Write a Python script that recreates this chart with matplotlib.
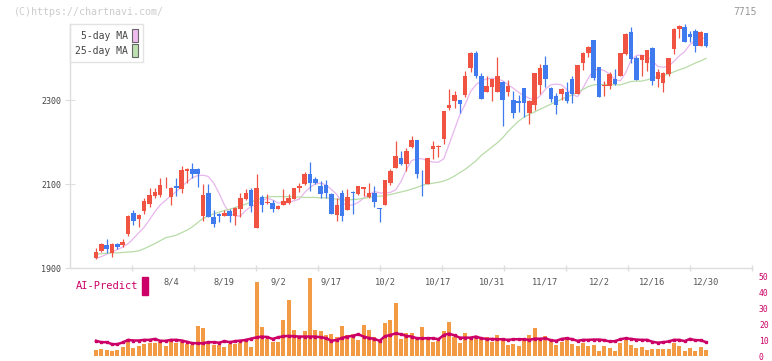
import numpy as np
import matplotlib
matplotlib.use('Agg')
import matplotlib.pyplot as plt
from matplotlib.patches import Patch, Rectangle

# daily candles, 7/11 .. 12/30 (first one is a doji with no volume bar)
opens = [1930, 1925, 1941, 1955, 1936, 1957, 1955, 1981, 2030, 2017, 2036, 2052, 2071, 2075, 2099, 2070,
         2095, 2087, 2132, 2136, 2136, 2024, 2079, 2021, 2029, 2025, 2036, 2024, 2040, 2065, 2086, 1996,
         2068, 2054, 2054, 2041, 2050, 2054, 2065, 2090, 2099, 2125, 2113, 2095, 2098, 2076, 2026, 2079,
         2038, 2079, 2076, 2089, 2070, 2079, 2044, 2050, 2103, 2139, 2162, 2148, 2187, 2205, 2101, 2100,
         2183, 2189, 2207, 2282, 2298, 2300, 2312, 2377, 2413, 2357, 2320, 2332, 2320, 2344, 2320, 2300,
         2298, 2328, 2270, 2288, 2336, 2383, 2328, 2310, 2314, 2319, 2350, 2314, 2387, 2413, 2443, 2378,
         2334, 2334, 2349, 2356, 2410, 2461, 2399, 2395, 2389, 2425, 2350, 2341, 2362, 2421, 2468, 2475,
         2457, 2464, 2429, 2459]
highs = [1930, 1948, 1959, 1969, 1959, 1960, 1968, 2025, 2038, 2028, 2067, 2090, 2090, 2114, 2116, 2092,
         2114, 2143, 2137, 2151, 2137, 2100, 2100, 2038, 2030, 2038, 2040, 2046, 2078, 2089, 2090, 2124,
         2073, 2075, 2062, 2050, 2087, 2076, 2090, 2102, 2129, 2152, 2117, 2106, 2110, 2078, 2066, 2086,
         2088, 2083, 2095, 2094, 2103, 2095, 2044, 2110, 2135, 2202, 2179, 2185, 2214, 2205, 2133, 2162,
         2202, 2193, 2274, 2325, 2321, 2300, 2369, 2415, 2417, 2365, 2357, 2349, 2403, 2346, 2348, 2321,
         2312, 2328, 2300, 2365, 2386, 2405, 2332, 2317, 2328, 2344, 2356, 2383, 2415, 2429, 2443, 2379,
         2345, 2367, 2373, 2411, 2459, 2473, 2405, 2407, 2419, 2427, 2373, 2367, 2401, 2471, 2479, 2480,
         2464, 2468, 2464, 2459]
lows = [1930, 1922, 1939, 1936, 1925, 1945, 1951, 1975, 2003, 1998, 2029, 2046, 2067, 2070, 2090, 2050,
        2071, 2079, 2102, 2114, 2094, 2013, 2021, 1997, 2010, 2024, 2010, 2002, 2022, 2062, 2034, 1996,
        2034, 2052, 2034, 2040, 2049, 2052, 2065, 2082, 2098, 2083, 2100, 2066, 2066, 2029, 2013, 2013,
        2038, 2029, 2074, 2072, 2066, 2046, 2010, 2050, 2097, 2139, 2145, 2132, 2185, 2115, 2071, 2100,
        2160, 2165, 2195, 2276, 2280, 2268, 2308, 2367, 2352, 2302, 2320, 2298, 2320, 2238, 2310, 2256,
        2272, 2260, 2243, 2276, 2314, 2332, 2296, 2267, 2300, 2294, 2294, 2314, 2371, 2403, 2348, 2306,
        2310, 2326, 2336, 2356, 2407, 2387, 2348, 2356, 2370, 2336, 2332, 2320, 2358, 2409, 2447, 2437,
        2439, 2415, 2429, 2427]
closes = [1930, 1938, 1957, 1945, 1957, 1951, 1963, 2024, 2013, 2026, 2060, 2073, 2081, 2098, 2101, 2090,
          2090, 2133, 2136, 2125, 2124, 2074, 2022, 2005, 2024, 2032, 2024, 2044, 2066, 2079, 2048, 2090,
          2051, 2055, 2041, 2048, 2060, 2067, 2090, 2095, 2124, 2103, 2103, 2076, 2079, 2029, 2050, 2024,
          2070, 2078, 2095, 2092, 2079, 2058, 2041, 2110, 2131, 2167, 2148, 2179, 2205, 2124, 2099, 2162,
          2190, 2190, 2274, 2288, 2313, 2291, 2356, 2413, 2356, 2302, 2333, 2349, 2356, 2300, 2333, 2268,
          2294, 2292, 2298, 2365, 2376, 2350, 2302, 2288, 2326, 2298, 2314, 2383, 2413, 2425, 2353, 2308,
          2336, 2363, 2338, 2411, 2457, 2398, 2348, 2407, 2419, 2346, 2366, 2364, 2399, 2468, 2475, 2437,
          2451, 2429, 2461, 2429]

ma5 = [np.nan,
       1923, 1927, 1933, 1938, 1944, 1950, 1958, 1970, 1984, 1997, 2015, 2034, 2050, 2061, 2072, 2082,
       2094, 2105, 2115, 2120, 2121, 2118, 2102, 2078, 2050, 2030, 2024, 2024, 2037, 2047, 2051, 2060,
       2066, 2062, 2055, 2055, 2056, 2060, 2064, 2080, 2092, 2100, 2102, 2098, 2087, 2075, 2054, 2050,
       2050, 2056, 2066, 2075, 2082, 2079, 2078, 2080, 2086, 2106, 2134, 2156, 2160, 2160, 2155, 2152,
       2152, 2160, 2195, 2230, 2265, 2290, 2320, 2336, 2346, 2350, 2352, 2350, 2346, 2336, 2328, 2318,
       2310, 2304, 2300, 2310, 2326, 2336, 2338, 2336, 2325, 2313, 2308, 2328, 2352, 2370, 2374, 2370,
       2362, 2348, 2346, 2365, 2395, 2406, 2407, 2404, 2393, 2380, 2378, 2380, 2392, 2405, 2415, 2432,
       2442, 2447, 2447]
ma25 = [np.nan,
        1933, 1934, 1935, 1936, 1936, 1937, 1938, 1939, 1941, 1946, 1952, 1958, 1965, 1972, 1975, 1978,
        1984, 1990, 1998, 2008, 2018, 2024, 2029, 2033, 2037, 2040, 2044, 2048, 2052, 2057, 2062, 2066,
        2069, 2070, 2070, 2070, 2070, 2069, 2069, 2068, 2068, 2068, 2067, 2067, 2066, 2064, 2062, 2062,
        2063, 2064, 2066, 2068, 2070, 2071, 2072, 2075, 2078, 2081, 2084, 2088, 2092, 2097, 2100, 2102,
        2104, 2107, 2112, 2119, 2127, 2135, 2145, 2155, 2168, 2178, 2188, 2198, 2210, 2225, 2238, 2250,
        2259, 2266, 2272, 2278, 2284, 2290, 2296, 2302, 2307, 2312, 2318, 2325, 2332, 2336, 2337, 2337,
        2337, 2336, 2336, 2340, 2344, 2345, 2345, 2348, 2352, 2355, 2358, 2362, 2367, 2372, 2376, 2382,
        2388, 2393, 2399]

volume = [3.9, 4.6, 3.9, 3.3, 3.9, 5.8, 10.6, 5.2, 6.5, 7.7, 8.1, 8.3, 8.75, 6.5, 9.2, 8.3,
          8.75, 7.7, 7.1, 18.75, 17.5, 7.5, 7.1, 7.1, 5.8, 7.5, 7.9, 8.5, 9.2, 5.6, 47.1, 18.3,
          11.0, 8.9, 8.9, 22.5, 35.2, 16.5, 12.7, 15.8, 49.6, 16.5, 15.8, 13.1, 13.75, 11.9, 18.75, 13.3,
          13.75, 10.2, 19.6, 16.5, 11.9, 10.2, 20.6, 22.7, 33.3, 10.8, 14.4, 14.4, 11.9, 18.1, 11.9, 8.75,
          9.6, 15.8, 21.25, 12.3, 8.1, 14.4, 11.7, 12.9, 11.25, 12.3, 8.75, 13.1, 10.6, 6.9, 7.5, 6.25,
          10.6, 13.1, 17.5, 10.6, 12.5, 9.2, 7.1, 8.75, 12.3, 7.5, 6.25, 8.1, 6.25, 6.9, 3.3, 6.25,
          5.0, 3.3, 8.1, 10.2, 6.9, 5.0, 5.6, 3.9, 4.6, 4.6, 4.6, 4.6, 8.1, 6.25, 3.3, 5.0,
          3.3, 5.6, 3.9]
ai_predict = [9.6, 8.75, 8.75, 7.5, 7.5, 8.6, 10.2, 9.8, 9.8, 10.2, 10.2, 10.8, 9.6, 9.6, 10.2, 10.2,
              9.8, 9.0, 8.1, 8.1, 8.1, 8.75, 8.75, 8.4, 9.4, 8.75, 9.4, 9.7, 10.2, 11.0, 11.8, 12.3,
              12.0, 10.8, 11.8, 12.5, 12.7, 12.5, 12.3, 12.3, 12.3, 12.3, 11.9, 11.25, 9.6, 10.2, 11.5, 12.3,
              12.7, 13.75, 12.3, 11.4, 10.9, 9.6, 12.5, 13.3, 14.3, 13.75, 12.7, 12.3, 11.2, 11.2, 11.25, 11.25,
              10.6, 13.3, 14.2, 13.0, 11.6, 11.6, 11.6, 12.3, 11.25, 10.8, 10.8, 10.6, 10.6, 10.2, 10.6, 10.6,
              10.6, 10.2, 11.0, 10.9, 11.2, 10.0, 9.6, 10.8, 11.25, 10.6, 9.6, 10.2, 10.2, 10.4, 10.4, 10.0,
              9.2, 9.4, 10.6, 11.25, 10.8, 10.4, 10.2, 10.2, 9.0, 8.4, 8.75, 9.2, 10.2, 10.2, 9.4, 10.8,
              10.0, 10.0, 8.75]

date_labels = ['8/4', '8/19', '9/2', '9/17', '10/2', '10/17', '10/31', '11/17', '12/2', '12/16', '12/30']
date_pos = [15, 25, 35, 45, 55, 65, 75, 85, 95, 105, 115]

UP, DOWN = '#f15342', '#3f7bef'
MONO = 'DejaVu Sans Mono'

W, H = 772, 361
fig = plt.figure(figsize=(W / 100, H / 100), dpi=100)


def fx(px):
    return px / W


def fy(py):
    return 1 - py / H


ax = fig.add_axes([fx(70), fy(268), fx(752) - fx(70), fy(16) - fy(268)])
av = fig.add_axes([fx(70), fy(356), fx(752) - fx(70), fy(277) - fy(356)])

o = np.array(opens, float)
c = np.array(closes, float)
hi = np.array(highs, float)
lo = np.array(lows, float)
idx = np.arange(len(o))
cols = [UP if cc >= oo else DOWN for oo, cc in zip(o, c)]

# moving averages under the candles
ax.plot(idx, ma5, color='#e8b6ee', lw=0.9, zorder=1)
ax.plot(idx, ma25, color='#b8dca8', lw=0.9, zorder=1)

ax.vlines(idx, lo, hi, colors=cols, lw=0.9, zorder=2)
ax.bar(idx, np.maximum(np.abs(c - o), 2.0), bottom=np.minimum(o, c), width=0.85,
       color=cols, linewidth=0, zorder=3)

xmin, xmax = -3.86, 123.6
ax.set_xlim(xmin, xmax)
ax.set_ylim(1900, 2500)
for s in ['top', 'right']:
    ax.spines[s].set_visible(False)
for s in ['left', 'bottom']:
    ax.spines[s].set_color('#dddddd')
    ax.spines[s].set_linewidth(1)
ax.spines['left'].set_bounds(1900, 2481)

ax.set_yticks([1900, 2100, 2300])
ax.tick_params(axis='y', direction='inout', length=7, color='#dddddd', labelsize=6,
               labelcolor='#444444', pad=3)
for t in ax.get_yticklabels():
    t.set_family(MONO)

ax.set_xticks(date_pos)
ax.set_xticklabels(date_labels, family=MONO)
ax.set_xticks(xmin + (xmax - xmin) * np.arange(1, 12) / 11, minor=True)
ax.tick_params(axis='x', which='major', length=0, labelsize=6.3, labelcolor='#555555', pad=7)
ax.tick_params(axis='x', which='minor', direction='inout', length=4, color='#dddddd', width=1)

leg = ax.legend(handles=[Patch(fc='#eebbee', ec='#666666', lw=0.8),
                         Patch(fc='#bde0b0', ec='#666666', lw=0.8)],
                labels=['5-day MA', '25-day MA'], loc='upper left',
                bbox_to_anchor=(fx(70), fy(24)), bbox_transform=fig.transFigure,
                markerfirst=False, handlelength=0.6, handleheight=1.7, handletextpad=0.4,
                borderpad=0.55, labelspacing=0.15, borderaxespad=0, fancybox=False,
                edgecolor='#dddddd', prop={'family': MONO, 'size': 7})
leg.get_frame().set_linewidth(1)
for t in leg.get_texts():
    t.set_color('#444444')

# volume + AI predict panel
vidx = idx[1:]
av.bar(vidx, volume, width=0.75, color='#f39a45', linewidth=0)
av.plot(vidx, ai_predict, color='#cc0066', lw=1.8, marker='s', ms=2.0)
av.set_xlim(xmin, xmax)
av.set_ylim(0, 50)
av.set_yticks(range(0, 51, 10))
av.yaxis.tick_right()
av.tick_params(axis='y', length=0, labelsize=5.8, labelcolor='#cc0066', pad=5)
for t in av.get_yticklabels():
    t.set_family(MONO)
av.set_xticks([])
for s in av.spines.values():
    s.set_visible(False)
av.patch.set_alpha(0)

fig.text(fx(76), fy(286), 'AI-Predict', color='#cc0066', family=MONO, size=7.5, va='center')
fig.patches.append(Rectangle((fx(142), fy(295)), fx(6), fy(277) - fy(295),
                             transform=fig.transFigure, color='#cc0066'))

fig.text(fx(14), fy(12), '(C)https://chartnavi.com/', color='#cccccc', family=MONO, size=7.2,
         va='center')
fig.text(fx(757), fy(12), '7715', color='#999999', family=MONO, size=7, va='center', ha='right')

fig.savefig('out.png', dpi=100)
